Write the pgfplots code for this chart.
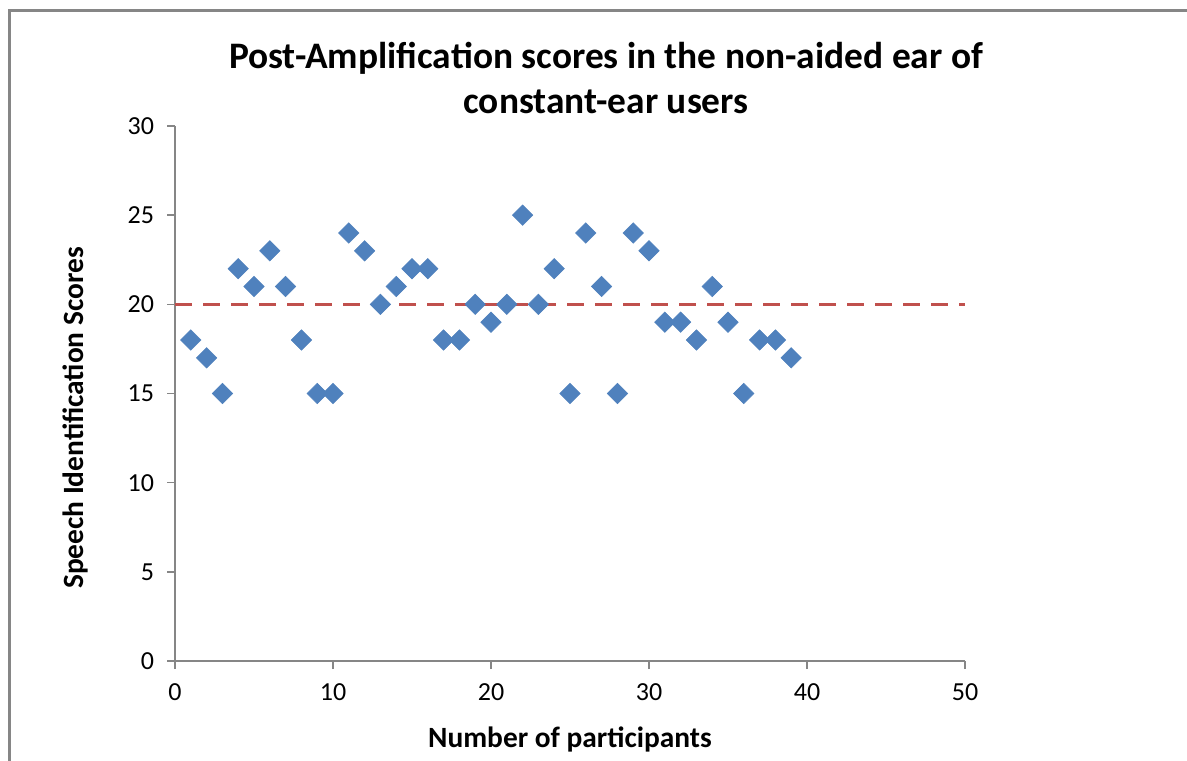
\documentclass[border=0pt]{standalone}
\usepackage{pgfplots}
\pgfplotsset{compat=1.18}
\usepackage{fontspec}
\setmainfont{Carlito}
\definecolor{serblue}{HTML}{4F81BD}
\definecolor{serred}{HTML}{C0504D}
\definecolor{axgray}{HTML}{868686}
\begin{document}
\begin{tikzpicture}[x=1pt,y=1pt]
\useasboundingbox (0,0) rectangle (593.5,380);
\fill[white] (0,0) rectangle (593.5,380);
\draw[axgray, line width=1.5pt] (4.5,-10) -- (4.5,374.5) -- (600,374.5);
\begin{axis}[
  at={(87.5pt,49.5pt)}, anchor=origin,
  scale only axis, width=395pt, height=267.5pt,
  xmin=0, xmax=50, ymin=0, ymax=30,
  xtick={0,10,...,50}, ytick={0,5,...,30},
  axis x line*=bottom, axis y line*=left,
  axis line style={axgray, line width=0.8pt},
  every tick/.style={axgray, line width=0.8pt},
  tick align=outside, major tick length=4pt,
  minor tick num=0,
  tick label style={font=\fontsize{13}{15}\selectfont},
  /pgf/number format/assume math mode=true,
  yticklabel style={xshift=-3pt},
  xticklabel style={yshift=-4pt},
  clip=false,
]
\addplot[only marks, mark=square*, mark size=3.6pt, mark options={rotate=45, fill=serblue, draw=serblue, line width=0.3pt}, color=serblue]
coordinates {
(1,18)(2,17)(3,15)(4,22)(5,21)(6,23)(7,21)(8,18)(9,15)(10,15)
(11,24)(12,23)(13,20)(14,21)(15,22)(16,22)(17,18)(18,18)(19,20)(20,19)
(21,20)(22,25)(23,20)(24,22)(25,15)(26,24)(27,21)(28,15)(29,24)(30,23)
(31,19)(32,19)(33,18)(34,21)(35,19)(36,15)(37,18)(38,18)(39,17)
};
\addplot[serred, line width=1.8pt, dash pattern=on 8.5pt off 5.5pt] coordinates {(0,20)(50,20)};
\end{axis}
\node[align=center, font=\fontsize{18.7}{22.5}\selectfont\bfseries] at (303,341)
  {Post-Amplification scores in the non-aided ear of\\constant-ear users};
\node[rotate=90, font=\fontsize{14.7}{16}\selectfont\bfseries] at (37.5,171) {Speech Identification Scores};
\node[font=\fontsize{14.7}{16}\selectfont\bfseries] at (285,10.5) {Number of participants};
\end{tikzpicture}
\end{document}
